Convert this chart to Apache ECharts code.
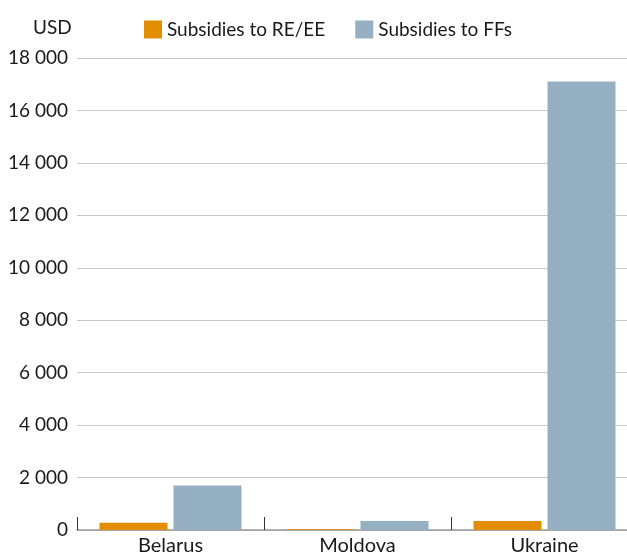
<!DOCTYPE html>
<html><head><meta charset="utf-8">
<script src="https://cdn.jsdelivr.net/npm/echarts@6/dist/echarts.min.js"></script>
<style>html,body{margin:0;padding:0;background:#fff}#c{width:627px;height:556px}</style>
</head><body><div id="c"></div>
<script>
const categories = ['Belarus', 'Moldova', 'Ukraine'];
const reEE = [280, 25, 340];
const ffs = [1700, 340, 17100];
const seriesNames = ['Subsidies to RE/EE', 'Subsidies to FFs'];
const unitLabel = 'USD';

const font = 'Lato';
const chart = echarts.init(document.getElementById('c'), null, {renderer: 'canvas'});
chart.setOption({
  animation: false,
  textStyle: {fontFamily: font},
  graphic: [{type: 'text', left: 33, top: 18, style: {text: unitLabel, font: '19px ' + font, fill: '#1a1a1a'}}],
  legend: {
    left: 139, top: 15, itemWidth: 18, itemHeight: 18, itemGap: 30,
    icon: 'rect',
    textStyle: {fontSize: 19, color: '#1a1a1a', fontFamily: font, padding: [0, 0, 0, 0]},
    data: seriesNames
  },
  grid: {left: 77, right: -11, top: 58, bottom: 26, containLabel: false, outerBoundsMode: 'none'},
  xAxis: {
    type: 'category', data: categories,
    axisLine: {lineStyle: {color: '#999', width: 1.5}},
    axisTick: {show: true, inside: true, length: 13, lineStyle: {color: '#333'}},
    axisLabel: {fontSize: 20, color: '#1a1a1a', margin: 6, fontFamily: font}
  },
  yAxis: {
    type: 'value', min: 0, max: 18000, interval: 2000,
    axisLine: {show: false}, axisTick: {show: false},
    splitLine: {lineStyle: {color: '#c8c8c8', width: 1.2}},
    axisLabel: {fontSize: 19, color: '#1a1a1a', margin: 9, fontFamily: font,
      formatter: v => String(v).replace(/\B(?=(\d{3})+(?!\d))/g, ' ')}
  },
  series: [
    {name: seriesNames[0], type: 'bar', data: reEE, barWidth: 68, barGap: '8.8%', itemStyle: {color: '#e38e00'}},
    {name: seriesNames[1], type: 'bar', data: ffs, barWidth: 68, itemStyle: {color: '#95b0c3'}}
  ]
});
</script></body></html>
